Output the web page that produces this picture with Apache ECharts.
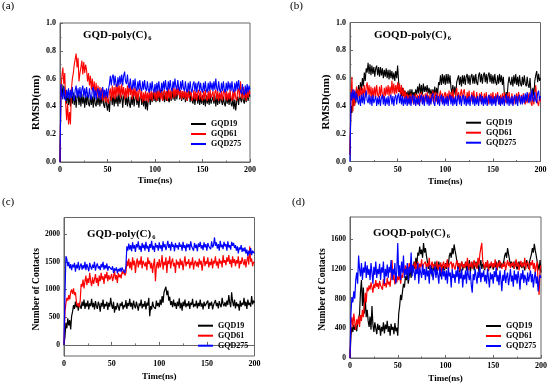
<!DOCTYPE html>
<html><head><meta charset="utf-8">
<script src="https://cdn.jsdelivr.net/npm/echarts@6/dist/echarts.min.js"></script>
<style>html,body{margin:0;padding:0;background:#fff}#c{width:550px;height:385px}</style>
</head><body><div id="c"></div>
<script>
// ---- shared time grid (ns) ----
const time = [
0,1,2,3,4,5,6,7,8,9,10,11,12,13,14,15,16,17,18,19,
20,21,22,23,24,25,26,27,28,29,30,31,32,33,34,35,36,37,38,39,
40,41,42,43,44,45,46,47,48,49,50,51,52,53,54,55,56,57,58,59,
60,61,62,63,64,65,66,67,68,69,70,71,72,73,74,75,76,77,78,79,
80,81,82,83,84,85,86,87,88,89,90,91,92,93,94,95,96,97,98,99,
100,101,102,103,104,105,106,107,108,109,110,111,112,113,114,115,116,117,118,119,
120,121,122,123,124,125,126,127,128,129,130,131,132,133,134,135,136,137,138,139,
140,141,142,143,144,145,146,147,148,149,150,151,152,153,154,155,156,157,158,159,
160,161,162,163,164,165,166,167,168,169,170,171,172,173,174,175,176,177,178,179,
180,181,182,183,184,185,186,187,188,189,190,191,192,193,194,195,196,197,198,199,
200];

const seriesNames = ['GQD19','GQD61','GQD275'];
const seriesColors = ['#000000','#ff0000','#0000ff'];
const panelLabels = ['(a)','(b)','(c)','(d)'];
const panelTitles = ['GQD-poly(C)','GOQD-poly(C)','GQD-poly(C)','GOQD-poly(C)'];
const panelSub = '6';
const timeTicks = [0,50,100,150,200];
const rmsdTicks = [0,0.2,0.4,0.6,0.8,1.0];
const contactTicksC = [0,500,1000,1500,2000];
const contactTicksD = [0,400,800,1200,1600];

// ---- (a) RMSD, GQD-poly(C)6 ----
const rmsdA19 = [
0.00,0.50,0.56,0.47,0.55,0.45,0.52,0.42,0.50,0.41,
0.48,0.40,0.49,0.42,0.50,0.41,0.48,0.39,0.47,0.49,
0.41,0.48,0.40,0.49,0.42,0.47,0.39,0.48,0.41,0.50,
0.42,0.40,0.48,0.41,0.47,0.39,0.49,0.42,0.40,0.47,
0.41,0.48,0.40,0.47,0.42,0.49,0.41,0.39,0.47,0.41,
0.37,0.45,0.36,0.46,0.48,0.41,0.49,0.40,0.47,0.42,
0.48,0.40,0.50,0.42,0.41,0.48,0.39,0.47,0.49,0.41,
0.47,0.40,0.48,0.42,0.39,0.47,0.41,0.49,0.40,0.46,
0.48,0.41,0.47,0.39,0.46,0.49,0.41,0.47,0.40,0.48,
0.38,0.45,0.37,0.46,0.48,0.41,0.49,0.43,0.50,0.44,
0.49,0.43,0.51,0.44,0.50,0.43,0.49,0.52,0.44,0.50,
0.43,0.50,0.44,0.51,0.45,0.43,0.50,0.44,0.51,0.45,
0.50,0.44,0.52,0.45,0.51,0.53,0.45,0.51,0.44,0.50,
0.45,0.51,0.43,0.50,0.44,0.49,0.51,0.43,0.49,0.44,
0.42,0.48,0.41,0.47,0.49,0.42,0.48,0.41,0.47,0.42,
0.48,0.41,0.47,0.40,0.48,0.42,0.47,0.41,0.48,0.42,
0.41,0.47,0.42,0.48,0.40,0.47,0.41,0.48,0.42,0.47,
0.48,0.41,0.47,0.42,0.40,0.48,0.42,0.47,0.41,0.48,
0.42,0.40,0.47,0.38,0.45,0.37,0.44,0.47,0.41,0.48,
0.49,0.43,0.50,0.44,0.42,0.49,0.43,0.50,0.44,0.49,
0.47];
const rmsdA61 = [
0.00,0.52,0.62,0.68,0.56,0.64,0.42,0.30,0.42,0.27,
0.36,0.27,0.52,0.60,0.64,0.70,0.74,0.78,0.68,0.75,
0.58,0.64,0.68,0.73,0.63,0.72,0.64,0.70,0.66,0.58,
0.64,0.55,0.62,0.52,0.60,0.50,0.58,0.48,0.57,0.47,
0.55,0.46,0.54,0.45,0.53,0.44,0.52,0.46,0.43,0.51,
0.44,0.42,0.50,0.53,0.44,0.55,0.46,0.54,0.45,0.56,
0.47,0.57,0.48,0.55,0.46,0.56,0.48,0.54,0.45,0.53,
0.46,0.55,0.47,0.57,0.48,0.55,0.45,0.53,0.47,0.54,
0.45,0.52,0.44,0.51,0.53,0.45,0.51,0.43,0.50,0.44,
0.51,0.44,0.50,0.43,0.52,0.45,0.51,0.44,0.50,0.52,
0.45,0.51,0.44,0.52,0.46,0.53,0.45,0.51,0.44,0.50,
0.52,0.45,0.51,0.44,0.53,0.46,0.52,0.45,0.51,0.54,
0.46,0.53,0.47,0.55,0.48,0.54,0.46,0.52,0.45,0.51,
0.46,0.52,0.45,0.51,0.44,0.52,0.46,0.45,0.51,0.44,
0.46,0.52,0.45,0.51,0.44,0.50,0.52,0.45,0.51,0.46,
0.44,0.51,0.45,0.52,0.46,0.44,0.51,0.45,0.52,0.46,
0.45,0.51,0.44,0.50,0.52,0.45,0.51,0.44,0.50,0.45,
0.51,0.44,0.50,0.52,0.45,0.51,0.44,0.50,0.45,0.52,
0.46,0.44,0.51,0.45,0.52,0.46,0.44,0.51,0.53,0.46,
0.58,0.48,0.45,0.54,0.46,0.52,0.44,0.53,0.46,0.52,
0.49];
const rmsdA275 = [
0.00,0.56,0.48,0.45,0.54,0.47,0.44,0.52,0.46,0.53,
0.45,0.52,0.46,0.54,0.47,0.44,0.52,0.55,0.46,0.53,
0.47,0.54,0.46,0.52,0.55,0.47,0.53,0.46,0.54,0.48,
0.46,0.53,0.47,0.45,0.52,0.54,0.46,0.52,0.45,0.51,
0.53,0.46,0.52,0.45,0.51,0.54,0.46,0.52,0.47,0.53,
0.46,0.52,0.56,0.62,0.55,0.61,0.63,0.55,0.62,0.56,
0.54,0.61,0.55,0.62,0.56,0.63,0.55,0.62,0.65,0.58,
0.56,0.63,0.55,0.53,0.60,0.54,0.52,0.59,0.53,0.60,
0.53,0.51,0.58,0.52,0.59,0.53,0.51,0.58,0.52,0.59,
0.53,0.51,0.58,0.52,0.50,0.57,0.51,0.58,0.52,0.50,
0.56,0.50,0.57,0.51,0.58,0.52,0.50,0.57,0.51,0.58,
0.52,0.59,0.53,0.51,0.58,0.52,0.59,0.53,0.51,0.58,
0.53,0.60,0.54,0.52,0.59,0.53,0.51,0.58,0.52,0.59,
0.53,0.51,0.58,0.52,0.50,0.57,0.51,0.58,0.52,0.50,
0.56,0.58,0.51,0.57,0.50,0.56,0.58,0.51,0.57,0.52,
0.50,0.57,0.51,0.58,0.52,0.50,0.57,0.51,0.58,0.52,
0.57,0.51,0.58,0.52,0.60,0.53,0.51,0.58,0.52,0.50,
0.57,0.51,0.58,0.52,0.50,0.57,0.51,0.58,0.52,0.57,
0.51,0.58,0.52,0.50,0.57,0.51,0.58,0.52,0.59,0.53,
0.51,0.49,0.56,0.50,0.48,0.55,0.49,0.56,0.50,0.55,
0.52];

// ---- (b) RMSD, GOQD-poly(C)6 ----
const rmsdB19 = [
0.05,0.40,0.35,0.47,0.40,0.50,0.42,0.52,0.45,0.55,
0.48,0.57,0.51,0.60,0.54,0.64,0.58,0.67,0.64,0.71,
0.63,0.70,0.62,0.69,0.63,0.68,0.61,0.67,0.69,0.62,
0.68,0.61,0.68,0.62,0.67,0.60,0.66,0.61,0.67,0.60,
0.66,0.59,0.66,0.60,0.65,0.59,0.64,0.58,0.65,0.60,
0.69,0.58,0.50,0.52,0.47,0.53,0.47,0.51,0.46,0.50,
0.47,0.51,0.45,0.52,0.46,0.52,0.46,0.50,0.47,0.52,
0.48,0.54,0.49,0.56,0.49,0.55,0.48,0.56,0.50,0.54,
0.50,0.55,0.49,0.53,0.48,0.52,0.47,0.52,0.48,0.54,
0.47,0.53,0.48,0.57,0.55,0.62,0.55,0.63,0.56,0.62,
0.55,0.63,0.56,0.63,0.56,0.62,0.53,0.49,0.55,0.48,
0.54,0.47,0.57,0.56,0.62,0.55,0.61,0.54,0.62,0.56,
0.62,0.55,0.61,0.63,0.56,0.62,0.55,0.61,0.63,0.56,
0.62,0.56,0.63,0.57,0.55,0.62,0.64,0.57,0.63,0.56,
0.62,0.64,0.57,0.63,0.56,0.62,0.64,0.57,0.63,0.56,
0.62,0.56,0.63,0.57,0.55,0.62,0.56,0.63,0.57,0.62,
0.55,0.61,0.49,0.46,0.50,0.47,0.56,0.61,0.57,0.55,
0.61,0.54,0.62,0.56,0.63,0.55,0.61,0.54,0.62,0.56,
0.54,0.61,0.55,0.62,0.56,0.54,0.61,0.55,0.53,0.60,
0.50,0.48,0.53,0.47,0.58,0.62,0.65,0.57,0.63,0.58,
0.60];
const rmsdB61 = [
0.05,0.45,0.61,0.36,0.52,0.40,0.50,0.54,0.45,0.52,
0.46,0.54,0.45,0.53,0.47,0.55,0.46,0.54,0.57,0.48,
0.55,0.47,0.54,0.45,0.53,0.46,0.54,0.47,0.55,0.48,
0.46,0.54,0.47,0.55,0.48,0.45,0.53,0.47,0.54,0.48,
0.55,0.47,0.54,0.48,0.58,0.49,0.56,0.48,0.55,0.49,
0.57,0.50,0.56,0.48,0.55,0.46,0.53,0.45,0.51,0.43,
0.49,0.42,0.48,0.41,0.49,0.42,0.48,0.41,0.47,0.49,
0.42,0.48,0.41,0.49,0.43,0.50,0.42,0.48,0.41,0.49,
0.43,0.50,0.42,0.48,0.41,0.49,0.43,0.51,0.42,0.48,
0.50,0.43,0.49,0.42,0.48,0.51,0.43,0.49,0.42,0.48,
0.50,0.43,0.49,0.42,0.51,0.44,0.50,0.43,0.52,0.45,
0.43,0.50,0.53,0.44,0.50,0.43,0.49,0.52,0.44,0.50,
0.52,0.45,0.43,0.50,0.44,0.51,0.45,0.43,0.50,0.44,
0.51,0.45,0.43,0.50,0.44,0.42,0.49,0.43,0.50,0.44,
0.42,0.49,0.43,0.50,0.44,0.41,0.48,0.42,0.49,0.43,
0.50,0.44,0.42,0.49,0.43,0.50,0.44,0.41,0.48,0.42,
0.49,0.43,0.50,0.44,0.42,0.49,0.43,0.50,0.44,0.42,
0.49,0.43,0.41,0.48,0.42,0.49,0.43,0.50,0.44,0.42,
0.48,0.42,0.49,0.43,0.41,0.48,0.42,0.49,0.43,0.50,
0.42,0.40,0.48,0.41,0.49,0.55,0.46,0.42,0.40,0.47,
0.43];
const rmsdB275 = [
0.00,0.50,0.44,0.52,0.45,0.51,0.43,0.49,0.44,0.41,
0.47,0.40,0.48,0.42,0.49,0.41,0.47,0.51,0.44,0.42,
0.48,0.41,0.47,0.40,0.48,0.42,0.41,0.47,0.40,0.46,
0.41,0.47,0.40,0.46,0.48,0.41,0.47,0.40,0.46,0.41,
0.47,0.40,0.46,0.48,0.41,0.47,0.40,0.46,0.48,0.41,
0.47,0.49,0.42,0.48,0.41,0.47,0.40,0.46,0.41,0.47,
0.40,0.46,0.41,0.47,0.40,0.46,0.48,0.41,0.47,0.40,
0.46,0.41,0.47,0.40,0.46,0.48,0.41,0.47,0.40,0.46,
0.48,0.41,0.47,0.40,0.46,0.41,0.47,0.49,0.42,0.40,
0.46,0.48,0.41,0.47,0.40,0.46,0.48,0.41,0.47,0.40,
0.46,0.41,0.47,0.40,0.46,0.48,0.41,0.47,0.40,0.46,
0.41,0.47,0.40,0.46,0.48,0.41,0.47,0.40,0.46,0.48,
0.41,0.47,0.40,0.46,0.41,0.47,0.40,0.46,0.48,0.41,
0.47,0.40,0.46,0.41,0.47,0.40,0.46,0.48,0.41,0.47,
0.40,0.46,0.41,0.47,0.40,0.46,0.48,0.41,0.47,0.40,
0.46,0.41,0.47,0.40,0.46,0.48,0.41,0.47,0.40,0.46,
0.41,0.47,0.40,0.46,0.48,0.41,0.47,0.40,0.46,0.41,
0.47,0.40,0.46,0.48,0.41,0.47,0.40,0.46,0.48,0.41,
0.47,0.41,0.48,0.42,0.49,0.43,0.50,0.44,0.42,0.49,
0.43,0.52,0.45,0.43,0.50,0.44,0.42,0.49,0.51,0.44,
0.47];

// ---- (c) Number of contacts, GQD-poly(C)6 ----
const contC19 = [
0,150,400,300,480,350,450,280,520,600,
720,650,780,680,740,620,760,700,650,780,
700,820,650,760,690,800,640,750,700,830,
680,760,640,790,700,650,780,720,600,760,
690,820,650,740,700,780,630,760,690,850,
720,650,780,580,700,640,760,690,620,750,
700,780,640,720,680,810,650,760,700,830,
690,760,640,800,710,660,780,700,620,750,
700,820,660,740,690,790,640,760,710,850,
520,700,640,780,690,720,650,800,700,760,
680,820,720,880,760,950,1000,1050,900,980,
800,870,720,790,680,820,700,760,650,780,
700,840,660,760,620,780,700,820,680,750,
700,790,650,760,720,830,680,740,700,800,
660,760,700,820,690,750,640,780,700,730,
690,800,650,760,710,780,640,720,690,810,
700,760,660,790,720,680,850,740,700,770,
690,800,720,900,760,680,950,780,700,820,
660,770,700,740,620,800,690,760,720,850,
700,780,650,820,720,760,690,880,730,800,
760];
const contC61 = [
0,600,750,850,800,900,820,950,1000,920,
1020,900,950,780,700,750,680,800,1100,1050,
1180,1020,1150,1250,1080,1200,1120,1300,1150,1060,
1220,1100,1180,1280,1120,1210,1060,1250,1150,1300,
1180,1240,1100,1280,1200,1320,1150,1260,1180,1220,
1280,1150,1230,1350,1180,1260,1120,1300,1220,1270,
1200,1330,1280,1360,1250,1300,1520,1420,1560,1380,
1500,1350,1580,1440,1520,1300,1480,1560,1400,1520,
1450,1600,1380,1520,1550,1420,1500,1350,1580,1460,
1520,1380,1480,1300,1450,1560,1150,1420,1500,1380,
1550,1400,1480,1620,1360,1500,1440,1580,1300,1520,
1460,1600,1380,1500,1560,1420,1480,1300,1540,1450,
1500,1380,1560,1440,1520,1350,1480,1600,1420,1500,
1460,1550,1380,1500,1440,1580,1360,1480,1520,1420,
1500,1400,1560,1450,1520,1340,1480,1600,1420,1510,
1460,1580,1400,1500,1440,1560,1380,1520,1470,1600,
1430,1510,1380,1560,1470,1520,1400,1620,1480,1530,
1440,1580,1500,1620,1460,1540,1400,1600,1480,1550,
1420,1530,1470,1600,1380,1520,1460,1580,1500,1440,
1550,1400,1520,1600,1450,1780,1500,1560,1420,1500,
1480];
const contC275 = [
0,900,1600,1550,1420,1500,1380,1460,1350,1450,
1400,1480,1320,1450,1380,1500,1350,1420,1470,1360,
1440,1380,1500,1350,1460,1400,1330,1480,1410,1360,
1450,1390,1500,1340,1430,1470,1380,1420,1350,1460,
1400,1500,1360,1440,1380,1470,1340,1420,1390,1450,
1360,1420,1300,1380,1340,1400,1290,1370,1330,1390,
1320,1400,1350,1380,1300,1420,1780,1700,1830,1720,
1800,1690,1850,1740,1800,1680,1820,1760,1870,1720,
1790,1680,1840,1750,1810,1700,1860,1740,1790,1680,
1820,1750,1880,1720,1790,1680,1840,1760,1800,1700,
1850,1740,1800,1690,1870,1760,1820,1710,1790,1880,
1750,1820,1700,1860,1770,1810,1690,1840,1760,1800,
1720,1850,1770,1810,1700,1860,1750,1800,1690,1830,
1760,1820,1710,1870,1780,1800,1700,1840,1750,1810,
1690,1830,1770,1860,1740,1800,1710,1850,1760,1820,
1700,1840,1780,1810,1730,1870,1760,1800,1940,1790,
1850,1740,1820,1700,1880,1760,1810,1730,1860,1780,
1820,1700,1870,1760,1800,1720,1860,1790,1840,1750,
1800,1700,1780,1650,1760,1720,1800,1680,1750,1690,
1760,1650,1720,1600,1700,1640,1750,1620,1700,1680,
1650];

// ---- (d) Number of contacts, GOQD-poly(C)6 ----
const contD19 = [
0,300,420,350,450,380,430,360,480,520,
600,900,1050,700,950,600,800,550,650,500,
420,560,380,700,450,350,480,400,320,460,
380,440,300,420,360,480,330,450,390,500,
350,430,300,460,380,420,320,470,360,410,
300,600,700,850,780,900,1000,950,1100,1050,
1150,1000,1100,1200,1080,1250,1150,1300,1200,1350,
1250,1420,1380,1500,1400,1460,1350,1550,1420,1480,
1380,1300,1200,1280,1150,1250,1100,1220,1180,1300,
1120,1250,1180,1300,1200,1100,1260,1150,1240,1180,
1280,1200,1320,1250,1380,1420,1350,1480,1400,1530,
1450,1380,1300,1200,1280,1150,1250,1300,1180,1260,
1220,1300,1180,1270,1200,1320,1150,1260,1230,1300,
1180,1250,1300,1210,1280,1160,1240,1320,1200,1270,
1230,1180,1290,1220,1300,1170,1260,1210,1280,1240,
1190,1270,1220,1300,1180,1250,1320,1210,1280,1230,
1260,1300,1380,1420,1350,1480,1400,1330,1250,1300,
1220,1280,1200,1310,1240,1190,1270,1300,1230,1260,
1210,1290,1230,1180,1270,1320,1250,1200,1300,1350,
1400,1480,1420,1540,1450,1380,1300,1250,1180,1320,
1150];
const contD61 = [
0,450,550,420,600,480,380,520,450,560,
420,580,500,650,550,700,880,750,950,900,
980,920,1020,950,880,1000,940,1050,960,1010,
930,1040,980,1000,920,1060,970,1010,950,1080,
990,1030,960,1100,1320,1050,1120,990,1080,1020,
1100,1050,1150,1000,1120,1080,1200,1150,1250,1180,
1230,1150,1280,1200,1320,1180,1260,1220,1300,1170,
1250,1300,1180,1270,1220,1330,1190,1260,1240,1300,
1200,1280,1230,1350,1180,1250,1300,1210,1270,1190,
1240,1310,1180,1260,1220,1290,1150,1250,1300,1200,
1270,1220,1330,1180,1260,1240,1300,1200,1280,1230,
1190,1270,1320,1230,1280,1180,1250,1300,1220,1260,
1210,1290,1240,1350,1180,1270,1230,1300,1200,1260,
1320,1230,1280,1200,1350,1260,1400,1480,1550,1300,
1260,1200,1290,1230,1320,1180,1270,1240,1300,1210,
1280,1220,1330,1250,1190,1290,1230,1310,1260,1200,
1270,1230,1300,1180,1260,1320,1240,1290,1210,1280,
1240,1300,1200,1270,1330,1230,1290,1180,1260,1310,
1220,1280,1240,1350,1200,1270,1300,1230,1180,1290,
1250,1320,1200,1280,1150,1240,1300,1000,850,1200,
1250];
const contD275 = [
0,600,820,750,900,800,1050,1150,1000,1380,
1200,1100,1280,1050,1220,1150,1300,1080,1250,1120,
1200,1050,1280,1150,1000,1230,1120,1300,1080,1200,
1130,1270,1050,1220,1150,1300,1000,1200,1100,1260,
1080,1230,1150,1320,1050,1200,1120,1280,1000,1180,
1550,1100,1250,1050,1300,1150,1380,1080,1200,1120,
1280,1050,1230,1140,1420,1100,1250,1180,1050,1200,
1130,1280,1000,1220,1150,1080,1260,1120,1200,1050,
1230,1100,1180,1000,1250,1130,1200,1050,1160,1240,
1080,1200,1120,1000,1230,1150,1060,1210,1100,1170,
1050,1180,1000,1220,1100,1150,950,1200,1080,1130,
1010,1180,1090,1230,1000,1150,1070,1200,950,1120,
1060,1180,1000,1220,1110,1050,1170,980,880,1130,
1050,1200,1100,1000,1160,1080,1230,1020,1150,1090,
1180,1030,1120,1000,1200,1080,950,1150,1060,1130,
1000,1170,1090,1220,1030,1120,980,1180,1060,900,
1120,1040,1190,1010,1100,1150,980,1080,1200,1030,
1110,960,1180,1050,1130,1000,1170,1080,920,1140,
1060,1190,1010,1120,1070,980,1150,1030,1100,1180,
1020,1130,950,1080,1160,1000,1100,900,1050,1120,
1080];

const panelData = [
  [rmsdA19, rmsdA61, rmsdA275],
  [rmsdB19, rmsdB61, rmsdB275],
  [contC19, contC61, contC275],
  [contD19, contD61, contD275]
];

const FONT = 'Liberation Serif';
const AX = '#666';

// layout
const grids = [
  {left: 60, top: 23, width: 190, height: 139},
  {left: 350, top: 22.5, width: 190.5, height: 139},
  {left: 64, top: 217.5, width: 190.5, height: 138.5},
  {left: 350, top: 217, width: 191, height: 141}
];
const yNames = ['RMSD(nm)','RMSD(nm)','Number of Contacts','Number of Contacts'];
const yNameCfg = [
  {size: 11, gap: 15.5, pad: [0,20,0,0]},
  {size: 11, gap: 14, pad: [0,20,0,0]},
  {size: 9.5, gap: 21.5, pad: [0,5,0,0]},
  {size: 9.5, gap: 21, pad: [0,4,0,0]}
];
const xNameGap = [14.5, 16, 16, 16];
const yRanges = [[0,1],[0,1],[-200,2300],[0,1900]];
const yTickVals = [rmsdTicks, rmsdTicks, contactTicksC, contactTicksD];
const yLabelSize = [8, 8, 7.5, 7.5];
const lineWidths = [1.1, 1.1, 1.2, 1.2];
const panelLabelPos = [[2,1],[290,1],[2,197],[292,197]];
const titlePos = [[83,28.5],[374,29],[87,227.5],[373,226.5]];
const legendPos = [[191,119],[466,117.7],[198,320.7],[486,321]];

const xAxes = [], yAxes = [], series = [], titles = [], legends = [];
for (let p = 0; p < 4; p++) {
  xAxes.push({
    type: 'value', gridIndex: p, min: 0, max: 200, interval: 50,
    name: 'Time(ns)', nameLocation: 'middle', nameGap: xNameGap[p],
    nameTextStyle: {fontFamily: FONT, fontWeight: 'bold', fontSize: 9, color: '#000'},
    axisLine: {show: true, lineStyle: {color: AX, width: 1}},
    axisTick: {show: true, inside: true, length: 3, lineStyle: {color: AX}},
    minorTick: {show: true, splitNumber: 2, length: 1.5, lineStyle: {color: AX}},
    splitLine: {show: false},
    axisLabel: {fontFamily: FONT, fontWeight: 'bold', fontSize: 8, color: '#000', margin: 4}
  });
  const yt = yTickVals[p];
  const y = {
    type: 'value', gridIndex: p, min: yRanges[p][0], max: yRanges[p][1],
    name: yNames[p], nameLocation: 'middle', nameGap: yNameCfg[p].gap,
    nameTextStyle: {fontFamily: FONT, fontWeight: 'bold', fontSize: yNameCfg[p].size, color: '#000', padding: yNameCfg[p].pad},
    axisLine: {show: true, lineStyle: {color: AX, width: 1}},
    axisTick: {show: true, inside: true, length: 3, lineStyle: {color: AX}},
    splitLine: {show: false},
    axisLabel: {fontFamily: FONT, fontWeight: 'bold', fontSize: yLabelSize[p], color: '#000', margin: 4}
  };
  if (p < 2) {
    y.interval = 0.2;
    y.minorTick = {show: true, splitNumber: 2, length: 1.5, lineStyle: {color: AX}};
    y.axisLabel.formatter = v => v.toFixed(1);
  } else {
    y.axisTick.customValues = yt;
    y.axisLabel.customValues = yt;
    y.axisLabel.formatter = v => String(Math.round(v));
  }
  yAxes.push(y);

  panelData[p].forEach((vals, k) => {
    series.push({
      type: 'line', name: seriesNames[k], xAxisIndex: p, yAxisIndex: p,
      data: time.map((t, i) => [t, vals[i]]),
      showSymbol: false, symbol: 'none', sampling: null,
      lineStyle: {color: seriesColors[k], width: lineWidths[p]},
      itemStyle: {color: seriesColors[k]},
      emphasis: {disabled: true}, z: 2 + k
    });
  });

  titles.push({
    text: panelLabels[p], left: panelLabelPos[p][0], top: panelLabelPos[p][1], padding: 0,
    textStyle: {fontFamily: FONT, fontWeight: 'normal', fontSize: 11, color: '#000'}
  });
  titles.push({
    text: '{t|' + panelTitles[p] + '}{s|' + panelSub + '}',
    left: titlePos[p][0], top: titlePos[p][1], padding: 0,
    textStyle: {
      rich: {
        t: {fontFamily: FONT, fontWeight: 'bold', fontSize: 11, color: '#000', lineHeight: 13},
        s: {fontFamily: FONT, fontWeight: 'bold', fontSize: 6.5, color: '#000', padding: [6,0,0,1]}
      }
    }
  });
  legends.push({
    data: seriesNames, orient: 'vertical', left: legendPos[p][0], top: legendPos[p][1],
    padding: 0, itemGap: 0, itemWidth: 15, itemHeight: 2, icon: 'rect',
    selectedMode: false,
    textStyle: {fontFamily: FONT, fontWeight: 'bold', fontSize: 8, color: '#000', lineHeight: 10}
  });
}

const chart = echarts.init(document.getElementById('c'), null, {renderer: 'canvas'});
chart.setOption({
  backgroundColor: '#fff',
  animation: false,
  title: titles,
  legend: legends,
  grid: grids.map(g => Object.assign({show: true, borderColor: AX, borderWidth: 1, backgroundColor: 'transparent'}, g)),
  xAxis: xAxes,
  yAxis: yAxes,
  series: series
});
</script>
</body></html>
